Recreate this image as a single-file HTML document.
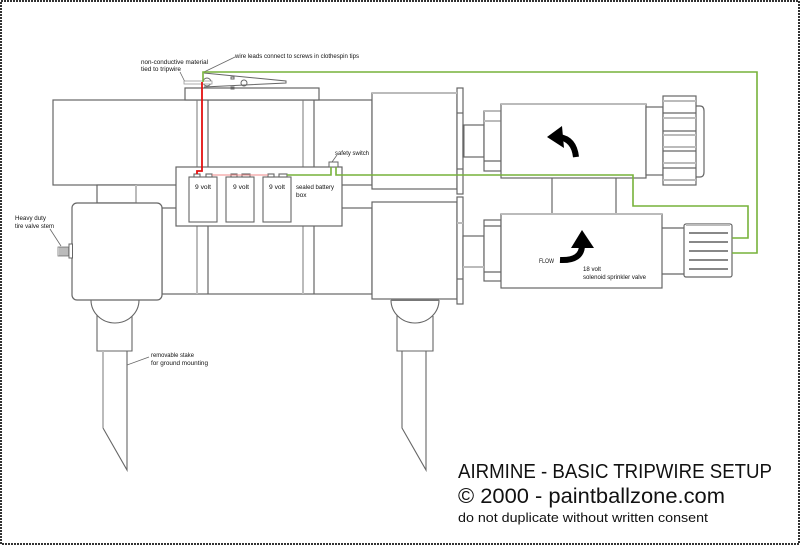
<!DOCTYPE html>
<html><head><meta charset="utf-8"><style>
html,body{margin:0;padding:0;background:#fff;}
svg{display:block;}
text{font-family:"Liberation Sans",sans-serif;fill:#111;}
</style></head><body>
<svg width="800" height="545" viewBox="0 0 800 545" xmlns="http://www.w3.org/2000/svg">
<rect x="1" y="1" width="798" height="543" fill="#fff" stroke="#333" stroke-width="2" stroke-dasharray="2 1"/>
<g fill="#fff" stroke="#666" stroke-width="1.2">
<rect x="53" y="100" width="319" height="85"/>
<rect x="162" y="208" width="210" height="86"/>
</g>
<g stroke="#bbb" stroke-width="2">
<line x1="197" y1="100" x2="197" y2="294"/>
<line x1="303" y1="100" x2="303" y2="294"/>
</g>
<g stroke="#666" stroke-width="1.2">
<line x1="208" y1="100" x2="208" y2="294"/>
<line x1="314" y1="100" x2="314" y2="294"/>
</g>
<rect x="97" y="185" width="39" height="18" fill="#fff" stroke="#666" stroke-width="1.2"/>
<line x1="136" y1="185" x2="136" y2="203" stroke="#bbb" stroke-width="2"/>
<rect x="72" y="203" width="90" height="97" rx="5" fill="#fff" stroke="#666" stroke-width="1.2"/>
<rect x="69" y="244" width="3.5" height="14" fill="#fff" stroke="#666" stroke-width="1"/>
<rect x="58" y="247" width="11" height="9" fill="#fff" stroke="#777" stroke-width="0.8"/>
<g stroke="#555" stroke-width="0.8">
<line x1="60" y1="247" x2="60" y2="256"/><line x1="62" y1="247" x2="62" y2="256"/><line x1="64" y1="247" x2="64" y2="256"/><line x1="66" y1="247" x2="66" y2="256"/><line x1="68" y1="247" x2="68" y2="256"/>
</g>
<line x1="50" y1="229" x2="61" y2="246" stroke="#666" stroke-width="0.8"/>
<rect x="176" y="167" width="166" height="59" fill="#fff" stroke="#666" stroke-width="1.2"/>
<g fill="#fff" stroke="#666" stroke-width="1.1">
<rect x="189" y="177" width="28" height="45"/>
<rect x="226" y="177" width="28" height="45"/>
<rect x="263" y="177" width="28" height="45"/>
<rect x="194" y="174" width="6" height="3"/><rect x="206" y="174" width="6" height="3"/>
<rect x="231" y="174" width="6" height="3"/><rect x="242" y="174" width="8" height="3"/>
<rect x="268" y="174" width="6" height="3"/><rect x="279" y="174" width="8" height="3"/>
</g>
<g fill="#fff" stroke="#666" stroke-width="1.2">
<rect x="372" y="93" width="85" height="96"/>
<rect x="372" y="202" width="85" height="97"/>
<rect x="457" y="88" width="6" height="106"/>
<rect x="457" y="197" width="6" height="107"/>
<rect x="463" y="125" width="21" height="32"/>
<rect x="484" y="111" width="17" height="60"/>
<rect x="463" y="236" width="21" height="31"/>
<rect x="484" y="220" width="17" height="61"/>
</g>
<g stroke="#666" stroke-width="1.2">
<line x1="457" y1="113" x2="463" y2="113"/><line x1="457" y1="169" x2="463" y2="169"/>
<line x1="457" y1="279" x2="463" y2="279"/>
<line x1="484" y1="161" x2="501" y2="161"/>
<line x1="484" y1="226" x2="501" y2="226"/><line x1="484" y1="272" x2="501" y2="272"/>
<line x1="463.5" y1="125" x2="463.5" y2="157" stroke-width="2"/>
</g>
<g stroke="#bbb" stroke-width="2">
<line x1="372" y1="93" x2="457" y2="93"/>
<line x1="457" y1="223" x2="463" y2="223"/>
<line x1="484" y1="121" x2="501" y2="121"/>
<line x1="484" y1="111" x2="501" y2="111"/>
<line x1="463" y1="267" x2="484" y2="267"/>
</g>
<g fill="#fff" stroke="#666" stroke-width="1.2">
<rect x="501" y="104" width="145" height="74"/>
<rect x="501" y="214" width="161" height="74"/>
<line x1="552" y1="178" x2="552" y2="214"/>
<line x1="616" y1="178" x2="616" y2="214"/>
<rect x="646" y="107" width="17" height="68"/>
<path d="M696,106 H700 Q704,106 704,111 V172 Q704,177 700,177 H696"/>
<rect x="663" y="96" width="33" height="89"/>
<line x1="662" y1="228" x2="684" y2="228"/>
<line x1="662" y1="274" x2="684" y2="274"/>
<rect x="684" y="224" width="48" height="53" rx="2"/>
</g>
<g stroke="#bbb" stroke-width="2">
<line x1="501" y1="104" x2="646" y2="104"/>
<line x1="501" y1="214" x2="662" y2="214"/>
<line x1="663" y1="101" x2="696" y2="101"/><line x1="663" y1="118" x2="696" y2="118"/>
<line x1="663" y1="135" x2="696" y2="135"/><line x1="663" y1="147" x2="696" y2="147"/>
<line x1="663" y1="163" x2="696" y2="163"/><line x1="663" y1="180" x2="696" y2="180"/>
<line x1="686" y1="225" x2="730" y2="225"/>
</g>
<g stroke="#666" stroke-width="1.2">
<line x1="663" y1="113" x2="696" y2="113"/><line x1="663" y1="131" x2="696" y2="131"/>
<line x1="663" y1="151" x2="696" y2="151"/><line x1="663" y1="168" x2="696" y2="168"/>
</g>
<g stroke="#888" stroke-width="2">
<line x1="689" y1="233" x2="728" y2="233"/><line x1="689" y1="242" x2="728" y2="242"/>
<line x1="689" y1="251" x2="728" y2="251"/><line x1="689" y1="260" x2="728" y2="260"/>
<line x1="689" y1="269" x2="728" y2="269"/>
</g>
<path d="M559,137 Q574,139 576,157" fill="none" stroke="#000" stroke-width="6"/>
<polygon points="547,137 562,126 564,148" fill="#000"/>
<path d="M560,260 Q582,261 582,245" fill="none" stroke="#000" stroke-width="6"/>
<polygon points="582,230 571,248 594,248" fill="#000"/>
<g fill="none" stroke="#666" stroke-width="1.1">
<path d="M91,300 A24,23 0 0 0 139,300"/>
<path d="M97,315 V351 H132 V316"/>
<path d="M103,428 L127,470 V351"/>
<path d="M391,300 A24,23 0 0 0 439,300"/>
<path d="M397,315 V351 H433 V316"/>
<path d="M402,351 V428 L426,470 V351"/>
</g>
<line x1="103" y1="351" x2="103" y2="428" stroke="#bbb" stroke-width="2"/>
<line x1="391" y1="300" x2="439" y2="300" stroke="#777" stroke-width="2"/>
<line x1="127" y1="365" x2="149" y2="357" stroke="#666" stroke-width="0.8"/>
<rect x="185" y="88" width="134" height="12" fill="#fff" stroke="#666" stroke-width="1.2"/>
<g fill="none" stroke="#666" stroke-width="1">
<path d="M204,73 L286,81 V83 L204,87"/>
<circle cx="207" cy="82" r="4" fill="#fff"/>
<circle cx="244" cy="83" r="3"/>
<rect x="231" y="77" width="3" height="2"/>
<rect x="231" y="87" width="3" height="2"/>
<line x1="180" y1="72" x2="185" y2="82" stroke-width="0.8"/>
<line x1="235" y1="57" x2="204" y2="72" stroke-width="0.8"/>
<line x1="337" y1="155" x2="332" y2="162" stroke-width="0.8"/>
</g>
<rect x="184" y="81" width="28" height="3" fill="#fff" stroke="#999" stroke-width="0.8"/>
<rect x="329" y="162" width="9" height="5" fill="#fff" stroke="#666" stroke-width="1"/>
<g fill="none" stroke="#77b23a" stroke-width="1.6">
<polyline points="203,82 203,72 757,72 757,253 732,253"/>
<polyline points="287,175 331,175 331,167"/>
<polyline points="336,167 336,175 633,175 633,206 748,206 748,238 732,238"/>
</g>
<polyline points="202,82 202,171 197,171 197,174" fill="none" stroke="#e41010" stroke-width="1.8"/>
<line x1="212" y1="175" x2="268" y2="175" stroke="#f08a8a" stroke-width="1"/>
<g font-size="6.5">
<text x="141" y="64" textLength="67" lengthAdjust="spacingAndGlyphs">non-conductive material</text>
<text x="141" y="71" textLength="40" lengthAdjust="spacingAndGlyphs">tied to tripwire</text>
<text x="235" y="58" textLength="124" lengthAdjust="spacingAndGlyphs">wire leads connect to screws in clothespin tips</text>
<text x="335" y="155" textLength="34" lengthAdjust="spacingAndGlyphs">safety switch</text>
<text x="195" y="189" textLength="16" lengthAdjust="spacingAndGlyphs">9 volt</text>
<text x="233" y="189" textLength="16" lengthAdjust="spacingAndGlyphs">9 volt</text>
<text x="269" y="189" textLength="16" lengthAdjust="spacingAndGlyphs">9 volt</text>
<text x="296" y="189" textLength="38" lengthAdjust="spacingAndGlyphs">sealed battery</text>
<text x="296" y="197">box</text>
<text x="15" y="220" textLength="31" lengthAdjust="spacingAndGlyphs">Heavy duty</text>
<text x="15" y="228" textLength="39" lengthAdjust="spacingAndGlyphs">tire valve stem</text>
<text x="151" y="357" textLength="43" lengthAdjust="spacingAndGlyphs">removable stake</text>
<text x="151" y="365" textLength="57" lengthAdjust="spacingAndGlyphs">for ground mounting</text>
<text x="539" y="263" textLength="15" lengthAdjust="spacingAndGlyphs">FLOW</text>
<text x="583" y="271" textLength="18" lengthAdjust="spacingAndGlyphs">18 volt</text>
<text x="583" y="279" textLength="63" lengthAdjust="spacingAndGlyphs">solenoid sprinkler valve</text>
</g>
<text x="458" y="478" font-size="20" textLength="314" lengthAdjust="spacingAndGlyphs">AIRMINE - BASIC TRIPWIRE SETUP</text>
<text x="458" y="503" font-size="21" textLength="267" lengthAdjust="spacingAndGlyphs">© 2000 - paintballzone.com</text>
<text x="458" y="522" font-size="13" textLength="250" lengthAdjust="spacingAndGlyphs">do not duplicate without written consent</text>
</svg>
</body></html>
